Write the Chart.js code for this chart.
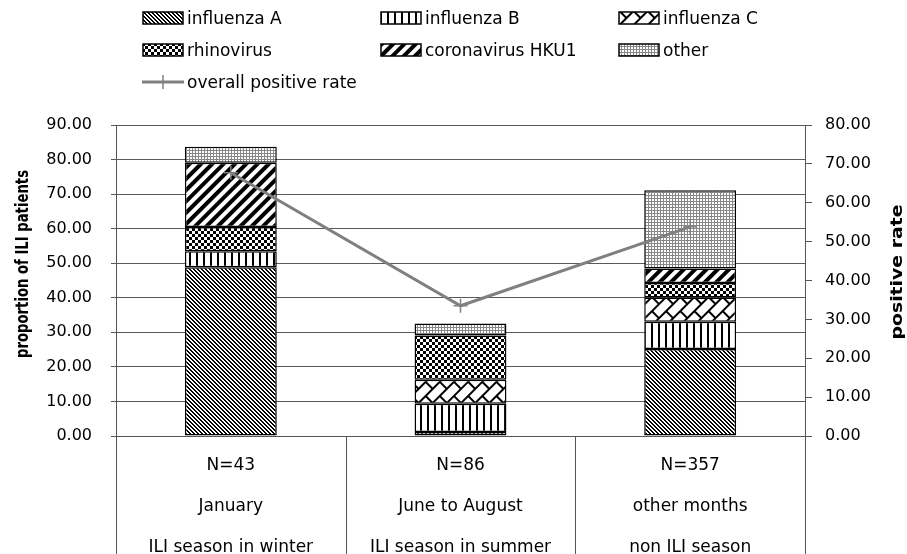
<!DOCTYPE html>
<html>
<head>
<meta charset="utf-8">
<script src="https://cdn.jsdelivr.net/npm/chart.js@4.4.0/dist/chart.umd.min.js"></script>
<style>
  html, body { margin: 0; padding: 0; background: #fff; }
  #wrap { position: relative; width: 907px; height: 554px; overflow: hidden; }
  #legend { position: absolute; left: 0; top: 0; width: 907px; height: 100px; font: 17px "DejaVu Sans", sans-serif; color: #000; }
  .item { position: absolute; display: flex; align-items: center; height: 20px; white-space: nowrap; }
  .item canvas { margin-right: 3px; }
</style>
</head>
<body>
<div id="wrap">
  <canvas id="chart" width="907" height="554"></canvas>
  <div id="legend"></div>
</div>
<script>
// categories (three label lines each)
const categories = [
    ['N=43', 'January', 'ILI season in winter'],
    ['N=86', 'June to August', 'ILI season in summer'],
    ['N=357', 'other months', 'non ILI season']
];

// proportion of ILI patients (%)
const influenzaA = [48.84, 1.16, 25.21];
const influenzaB = [4.65, 8.14, 7.84];
const influenzaC = [0, 6.98, 7.00];
const rhinovirus = [6.98, 12.79, 4.20];
const coronavirus = [18.60, 0, 4.20];
const other = [4.65, 3.49, 22.69];

// overall positive rate (%), right axis
const positiveRate = [67.7, 33.5, 53.8];

const seriesNames = ['influenza A', 'influenza B', 'influenza C', 'rhinovirus', 'coronavirus HKU1', 'other'];
const seriesValues = [influenzaA, influenzaB, influenzaC, rhinovirus, coronavirus, other];
const seriesPatterns = ['fluA', 'fluB', 'fluC', 'rhino', 'corona', 'other'];
const lineName = 'overall positive rate';

const yTicksMax = 90;
const y1TicksMax = 80;
const yTitle = 'proportion of ILI patients';
const y1Title = 'positive rate';

const FONT = '"DejaVu Sans", sans-serif';

function makeTile(kind) {
    const t = document.createElement('canvas');
    const g = t.getContext('2d');
    let angle = 0;
    const base = (w, h) => {
        t.width = w; t.height = h;
        g.fillStyle = '#fff'; g.fillRect(0, 0, w, h);
        g.fillStyle = '#000';
    };
    switch (kind) {
        case 'fluA':
            base(4, 4);
            for (let i = 0; i < 4; i++) {
                g.fillRect(i, i, 1, 1);
                g.fillRect((i + 1) % 4, i, 1, 1);
            }
            break;
        case 'fluB':
            base(7, 1);
            g.fillRect(0, 0, 2, 1);
            break;
        case 'fluC':
            base(20, 20);
            g.fillRect(0, 0, 20, 2);
            g.fillRect(0, 10, 20, 2);
            g.fillRect(0, 0, 2, 10);
            g.fillRect(10, 10, 2, 10);
            angle = -45;
            break;
        case 'rhino':
            base(6, 6);
            g.fillRect(0, 0, 3, 3);
            g.fillRect(3, 3, 3, 3);
            break;
        case 'corona':
            base(8, 8);
            g.fillRect(0, 0, 8, 4);
            angle = -45;
            break;
        case 'other':
            base(3, 3);
            g.fillStyle = '#888';
            g.fillRect(0, 0, 3, 1);
            g.fillRect(0, 0, 1, 3);
            break;
    }
    return { t, angle };
}

function makePattern(ctx, kind) {
    const { t, angle } = makeTile(kind);
    const p = ctx.createPattern(t, 'repeat');
    if (angle) p.setTransform(new DOMMatrix().rotate(angle));
    return p;
}

function drawTitle(ctx, text, cx, cy, length, size) {
    ctx.save();
    ctx.translate(cx, cy);
    ctx.rotate(-Math.PI / 2);
    ctx.font = 'bold ' + size + 'px ' + FONT;
    const w = ctx.measureText(text).width;
    ctx.scale(length / w, 1);
    ctx.fillStyle = '#000';
    ctx.textAlign = 'center';
    ctx.textBaseline = 'middle';
    ctx.fillText(text, 0, 0);
    ctx.restore();
}

// category separators below the axis and the two axis titles
const decorations = {
    id: 'decorations',
    afterDraw(chart) {
        const { ctx, chartArea, scales: { x } } = chart;
        ctx.save();
        ctx.strokeStyle = '#555';
        ctx.lineWidth = 1;
        for (let i = 0; i <= categories.length; i++) {
            const px = Math.round(x.getPixelForValue(i - 0.5)) + 0.5;
            ctx.beginPath();
            ctx.moveTo(px, chartArea.bottom);
            ctx.lineTo(px, chart.height);
            ctx.stroke();
        }
        ctx.restore();
        drawTitle(ctx, yTitle, 24, 264, 188, 17);
        drawTitle(ctx, y1Title, 898, 272, 135, 16);
    }
};

const canvas = document.getElementById('chart');
const ctx = canvas.getContext('2d');

const barSets = seriesNames.map((name, i) => ({
    type: 'bar',
    label: name,
    data: seriesValues[i],
    backgroundColor: makePattern(ctx, seriesPatterns[i]),
    borderColor: '#000',
    borderWidth: 1.5,
    borderSkipped: false,
    barPercentage: 0.4,
    categoryPercentage: 1,
    stack: 'virus',
    yAxisID: 'y',
    order: 1
}));

const lineSet = {
    type: 'line',
    label: lineName,
    data: positiveRate,
    borderColor: '#808080',
    borderWidth: 3,
    pointStyle: 'cross',
    pointRadius: 7,
    pointBorderWidth: 1.5,
    pointBorderColor: '#808080',
    pointBackgroundColor: '#808080',
    tension: 0,
    yAxisID: 'y1',
    order: 0
};

new Chart(ctx, {
    data: {
        labels: categories,
        datasets: [...barSets, lineSet]
    },
    options: {
        responsive: false,
        animation: false,
        layout: { padding: { top: 125, left: 0, right: 0, bottom: 0 } },
        plugins: {
            legend: { display: false },
            tooltip: { enabled: false }
        },
        scales: {
            x: {
                stacked: true,
                offset: true,
                grid: { display: false, drawTicks: false },
                border: { display: true, color: '#555' },
                ticks: {
                    color: '#000',
                    padding: 9,
                    maxRotation: 0,
                    autoSkip: false,
                    font: { family: FONT, size: 17, lineHeight: 41 / 17 }
                },
                afterFit: s => { s.height = 118; }
            },
            y: {
                stacked: true,
                position: 'left',
                min: 0,
                max: yTicksMax,
                ticks: {
                    stepSize: 10,
                    color: '#000',
                    padding: 19,
                    font: { family: FONT, size: 16 },
                    callback: v => v.toFixed(2)
                },
                grid: { color: '#5a5a5a', tickLength: 5 },
                border: { color: '#555' },
                afterFit: s => { s.width = 116; }
            },
            y1: {
                position: 'right',
                min: 0,
                max: y1TicksMax,
                ticks: {
                    stepSize: 10,
                    color: '#000',
                    padding: 13,
                    font: { family: FONT, size: 16 },
                    callback: v => v.toFixed(2)
                },
                grid: { drawOnChartArea: false, color: '#555', tickLength: 7 },
                border: { color: '#555' },
                afterFit: s => { s.width = 102; }
            }
        }
    },
    plugins: [decorations]
});

// legend in three columns, same patterns as the bars
const legend = document.getElementById('legend');
const legendItems = seriesNames.map((n, i) => ({ label: n, kind: seriesPatterns[i] }))
    .concat([{ label: lineName, kind: 'line' }]);
legendItems.forEach((it, i) => {
    const col = i % 3, row = Math.floor(i / 3);
    const div = document.createElement('div');
    div.className = 'item';
    div.style.left = (142 + col * 238) + 'px';
    div.style.top = (8 + row * 32) + 'px';
    const sw = document.createElement('canvas');
    sw.width = 42; sw.height = 14;
    const g = sw.getContext('2d');
    if (it.kind === 'line') {
        g.strokeStyle = '#808080';
        g.lineWidth = 3;
        g.beginPath(); g.moveTo(0, 7); g.lineTo(42, 7); g.stroke();
        g.lineWidth = 1.5;
        g.beginPath(); g.moveTo(21, 0); g.lineTo(21, 14); g.stroke();
    } else {
        g.fillStyle = makePattern(g, it.kind);
        g.fillRect(1, 1, 40, 12);
        g.strokeStyle = '#000';
        g.lineWidth = 1.5;
        g.strokeRect(1, 1, 40, 12);
    }
    const span = document.createElement('span');
    span.textContent = it.label;
    div.appendChild(sw);
    div.appendChild(span);
    legend.appendChild(div);
});
</script>
</body>
</html>
